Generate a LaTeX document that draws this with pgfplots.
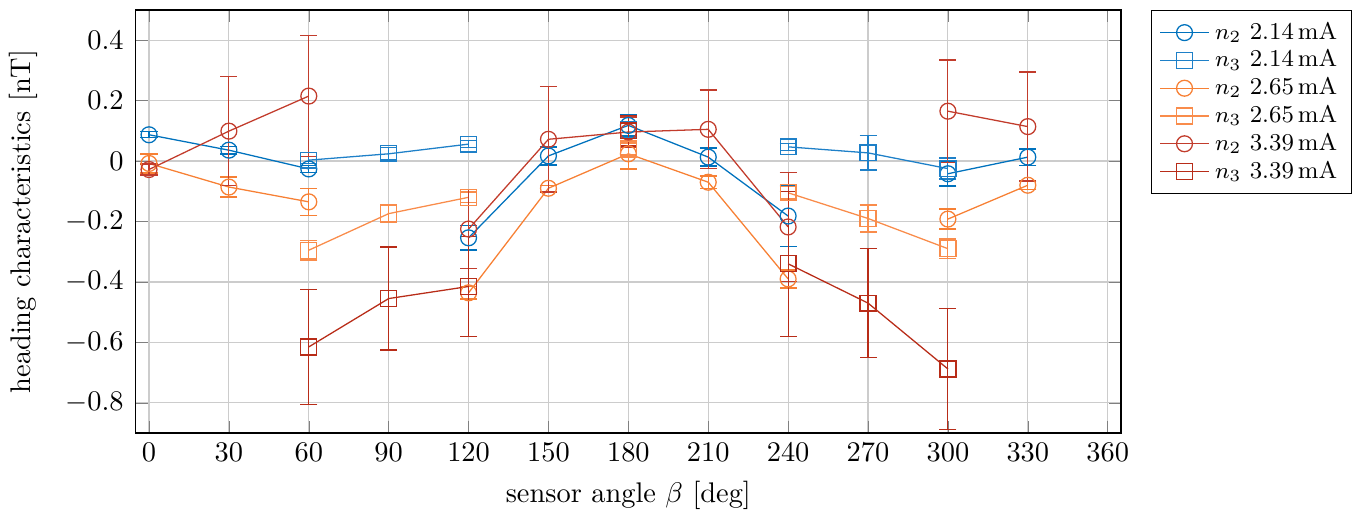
\documentclass[border=0pt]{standalone}
\usepackage{pgfplots}
\pgfplotsset{compat=1.18}

\definecolor{cblue}{RGB}{0,114,189}
\definecolor{cblueb}{RGB}{30,128,200}
\definecolor{corange}{RGB}{247,128,52}
\definecolor{corangeb}{RGB}{249,140,75}
\definecolor{cred}{RGB}{194,60,44}
\definecolor{credb}{RGB}{184,44,24}

\begin{document}
\begin{tikzpicture}
\begin{axis}[
    scale only axis, width=347pt, height=149pt,
    xmin=-5, xmax=365, ymin=-0.9, ymax=0.5,
    xtick={0,30,...,360}, ytick={-0.8,-0.6,...,0.4},
    grid=major, major grid style={gray!40},
    xlabel={sensor angle $\beta$ [deg]},
    ylabel={heading characteristics [nT]},
    ylabel shift=2.8pt,
    yticklabel style={xshift=-0.7pt},
    unbounded coords=jump,
    every axis plot/.append style={line width=0.45pt, mark size=2.8pt},
    error bars/y dir=both, error bars/y explicit,
    error bars/error mark options={rotate=90, mark size=3pt, line width=0.5pt},
    legend style={at={(1.03,1)}, anchor=north west, font=\fontsize{8.5}{10}\selectfont,
        draw=black, row sep=-1.8pt},
    legend cell align=left,
]
% n2 2.14 mA
\addplot[cblue, mark=o] table[y error=e] {
x y e
0 0.087 0.01
30 0.036 0.012
60 -0.026 0.012
90 nan 0
120 -0.254 0.04
150 0.017 0.03
180 0.118 0.035
210 0.013 0.03
240 -0.182 0.1
270 nan 0
300 -0.042 0.04
330 0.013 0.027
};
\addlegendentry{$n_2$ 2.14\,mA}
% n3 2.14 mA
\addplot[cblueb, mark=square] table[y error=e] {
x y e
60 0.003 0.012
90 0.024 0.02
120 0.056 0.012
150 nan 0
180 0.105 0.04
210 nan 0
240 0.047 0.012
270 0.027 0.057
300 -0.025 0.035
};
\addlegendentry{$n_3$ 2.14\,mA}
% n2 2.65 mA
\addplot[corange, mark=o] table[y error=e] {
x y e
0 -0.008 0.032
30 -0.086 0.033
60 -0.135 0.045
90 nan 0
120 -0.436 0.02
150 -0.09 0.01
180 0.024 0.05
210 -0.07 0.02
240 -0.39 0.03
270 nan 0
300 -0.192 0.033
330 -0.08 0.015
};
\addlegendentry{$n_2$ 2.65\,mA}
% n3 2.65 mA
\addplot[corangeb, mark=square] table[y error=e] {
x y e
60 -0.295 0.032
90 -0.174 0.03
120 -0.12 0.018
150 nan 0
180 0.04 0.02
210 nan 0
240 -0.105 0.02
270 -0.19 0.045
300 -0.29 0.032
};
\addlegendentry{$n_3$ 2.65\,mA}
% n2 3.39 mA
\addplot[cred, mark=o] table[y error=e] {
x y e
0 -0.028 0.018
30 0.099 0.18
60 0.215 0.2
90 nan 0
120 -0.225 0.13
150 0.072 0.175
180 0.096 0.05
210 0.105 0.13
240 -0.218 0.18
270 nan 0
300 0.165 0.17
330 0.114 0.18
};
\addlegendentry{$n_2$ 3.39\,mA}
% n3 3.39 mA
\addplot[credb, mark=square] table[y error=e] {
x y e
60 -0.615 0.19
90 -0.455 0.17
120 -0.415 0.165
150 nan 0
180 0.1 0.05
210 nan 0
240 -0.34 0.24
270 -0.47 0.18
300 -0.688 0.2
};
\addlegendentry{$n_3$ 3.39\,mA}
\end{axis}
% a little room above the axis, as in the reference
\path (current axis.north) ++(0,3.5pt);
\end{tikzpicture}
\end{document}
